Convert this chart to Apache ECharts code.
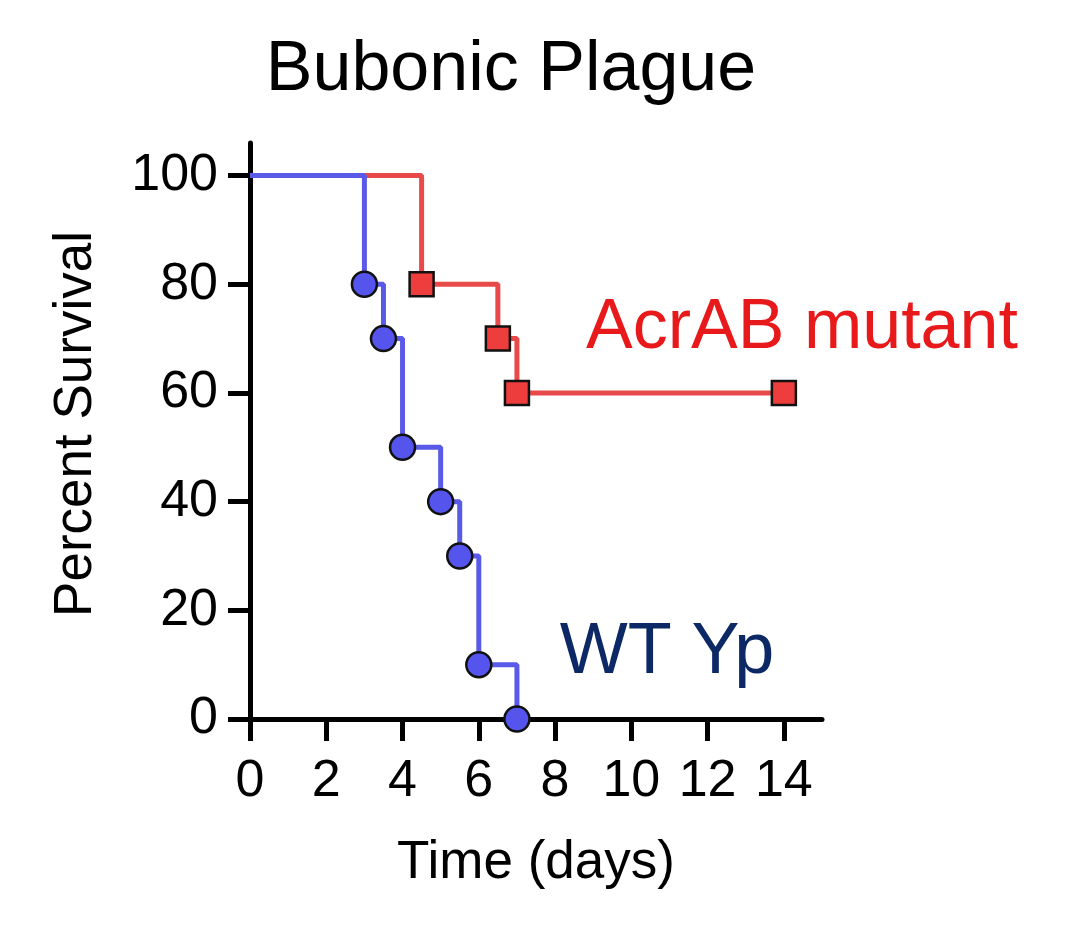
<!DOCTYPE html>
<html>
<head>
<meta charset="utf-8">
<script src="https://cdn.jsdelivr.net/npm/echarts@6/dist/echarts.min.js"></script>
<style>
  html, body { margin: 0; padding: 0; background: #fff; }
  #chart { width: 1075px; height: 934px; }
</style>
</head>
<body>
<div id="chart"></div>
<script>
// survival steps (days, percent) - first point is the start, no marker
var wtDays = [0, 3, 3.5, 4, 5, 5.5, 6, 7]
var wtSurvival = [100, 80, 70, 50, 40, 30, 10, 0]
var mutantDays = [0, 4.5, 6.5, 7, 14]
var mutantSurvival = [100, 80, 70, 60, 60]

var xTicks = [0, 2, 4, 6, 8, 10, 12, 14]
var yTicks = [0, 20, 40, 60, 80, 100]

var titleText = "Bubonic Plague"
var wtName = "WT Yp"
var mutantName = "AcrAB mutant"

var font = "Liberation Sans, Arial, sans-serif"

function buildData(days, vals) {
  var out = []
  for (var i = 0; i < days.length; i++) {
    var p = { value: [days[i], vals[i]] }
    if (i == 0) p.symbol = "none"
    out.push(p)
  }
  return out
}

var chart = echarts.init(document.getElementById("chart"))

chart.setOption({
  animation: false,
  backgroundColor: "#fff",
  grid: { left: 250, right: 253, top: 143, bottom: 215 },
  xAxis: {
    type: "value",
    min: 0,
    max: 15,
    name: "Time (days)",
    nameLocation: "middle",
    nameGap: 118,
    nameTextStyle: { fontSize: 53, color: "#000", fontFamily: font },
    splitLine: { show: false },
    axisLine: { onZero: false, lineStyle: { color: "#000", width: 5 } },
    axisTick: { length: 22, lineStyle: { color: "#000", width: 5 }, customValues: xTicks },
    axisLabel: { fontSize: 52, color: "#000", fontFamily: font, margin: 37, customValues: xTicks }
  },
  yAxis: {
    type: "value",
    min: 0,
    max: 106,
    name: "Percent Survival",
    nameLocation: "middle",
    nameGap: 147,
    nameTextStyle: { fontSize: 53, color: "#000", fontFamily: font, padding: [0, 0, 0, 14] },
    splitLine: { show: false },
    axisLine: { show: true, lineStyle: { color: "#000", width: 5 } },
    axisTick: { show: true, length: 22, lineStyle: { color: "#000", width: 5 }, customValues: yTicks },
    axisLabel: { fontSize: 52, color: "#000", fontFamily: font, margin: 32, customValues: yTicks }
  },
  graphic: [
    { type: "text", x: 511, y: 71, style: { text: titleText, fontSize: 70, fontFamily: font, fill: "#000", textAlign: "center", textVerticalAlign: "middle" } },
    { type: "text", x: 802, y: 329, style: { text: mutantName, fontSize: 70, fontFamily: font, fill: "#e8191a", textAlign: "center", textVerticalAlign: "middle" } },
    { type: "text", x: 667, y: 653, style: { text: wtName, fontSize: 72, fontFamily: font, fill: "#0c2865", textAlign: "center", textVerticalAlign: "middle" } }
  ],
  series: [
    {
      name: mutantName,
      type: "line",
      step: "end",
      data: buildData(mutantDays, mutantSurvival),
      symbol: "rect",
      symbolSize: 24,
      z: 2,
      lineStyle: { color: "#e84a4a", width: 5 },
      itemStyle: { color: "#ee3d3d", borderColor: "#111", borderWidth: 2.5 }
    },
    {
      name: wtName,
      type: "line",
      step: "end",
      data: buildData(wtDays, wtSurvival),
      symbol: "circle",
      symbolSize: 25,
      z: 3,
      lineStyle: { color: "#5a5ae8", width: 5 },
      itemStyle: { color: "#5555ee", borderColor: "#111", borderWidth: 2.5 }
    }
  ]
})
</script>
</body>
</html>
